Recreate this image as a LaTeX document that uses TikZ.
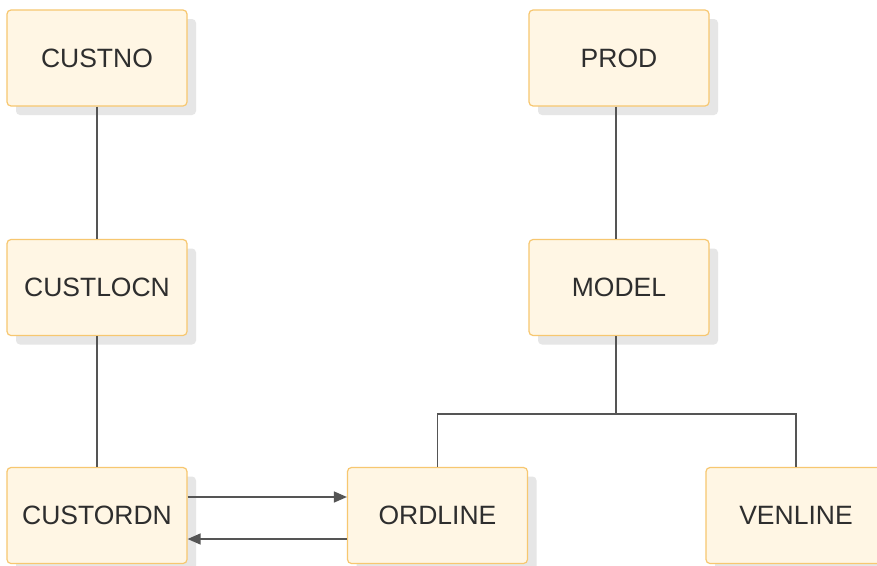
\documentclass[tikz,border=0pt]{standalone}
\usepackage{fontspec}
\setmainfont{Liberation Sans}
\usetikzlibrary{arrows.meta}
\definecolor{boxfill}{HTML}{FFF6E4}
\definecolor{boxline}{HTML}{F7C770}
\definecolor{shadowc}{HTML}{E6E6E6}
\definecolor{linec}{HTML}{555555}
\definecolor{textc}{HTML}{2E2E2E}
\begin{document}
\begin{tikzpicture}[x=1pt,y=-1pt,
  entity/.style={draw=boxline, fill=boxfill, line width=1.2pt, rounded corners=4pt,
    minimum width=180pt, minimum height=96pt, inner sep=0pt, text=textc,
    font=\fontsize{26.5}{30}\selectfont},
  conn/.style={draw=linec, line width=1.5pt},
  arr/.style={conn, -{Triangle[length=13pt,width=11pt]}}]
\useasboundingbox (0,0) rectangle (877,565);
\fill[white] (0,0) rectangle (877,565);
% shadows
\foreach \cx/\cy in {97/58, 97/287.5, 97/515.5, 619/58, 619/287.5, 437.5/515.5, 796/515.5}
  \fill[shadowc, rounded corners=4pt] (\cx-90+9,\cy-48+9) rectangle (\cx+90+9,\cy+48+9);
\node[entity] (custno) at (97,58) {CUSTNO};
\node[entity] (custlocn) at (97,287.5) {CUSTLOCN};
\node[entity] (custordn) at (97,515.5) {CUSTORDN};
\node[entity] (prod) at (619,58) {PROD};
\node[entity] (model) at (619,287.5) {MODEL};
\node[entity] (ordline) at (437.5,515.5) {ORDLINE};
\node[entity] (venline) at (796,515.5) {VENLINE};
\coordinate (branch) at (616,414);
\draw[conn] (custno) -- (custlocn);
\draw[conn] (custlocn) -- (custordn);
\draw[conn] ([xshift=-3pt]prod.south) -- ([xshift=-3pt]model.north);
\draw[conn] ([xshift=-3pt]model.south) -- (branch);
\draw[conn] (ordline.north) |- (branch) -| (venline.north);
\draw[arr] ([yshift=18.5pt]custordn.east) -- ([yshift=18.5pt]ordline.west);
\draw[arr] ([yshift=-23.5pt]ordline.west) -- ([yshift=-23.5pt]custordn.east);
\end{tikzpicture}
\end{document}
